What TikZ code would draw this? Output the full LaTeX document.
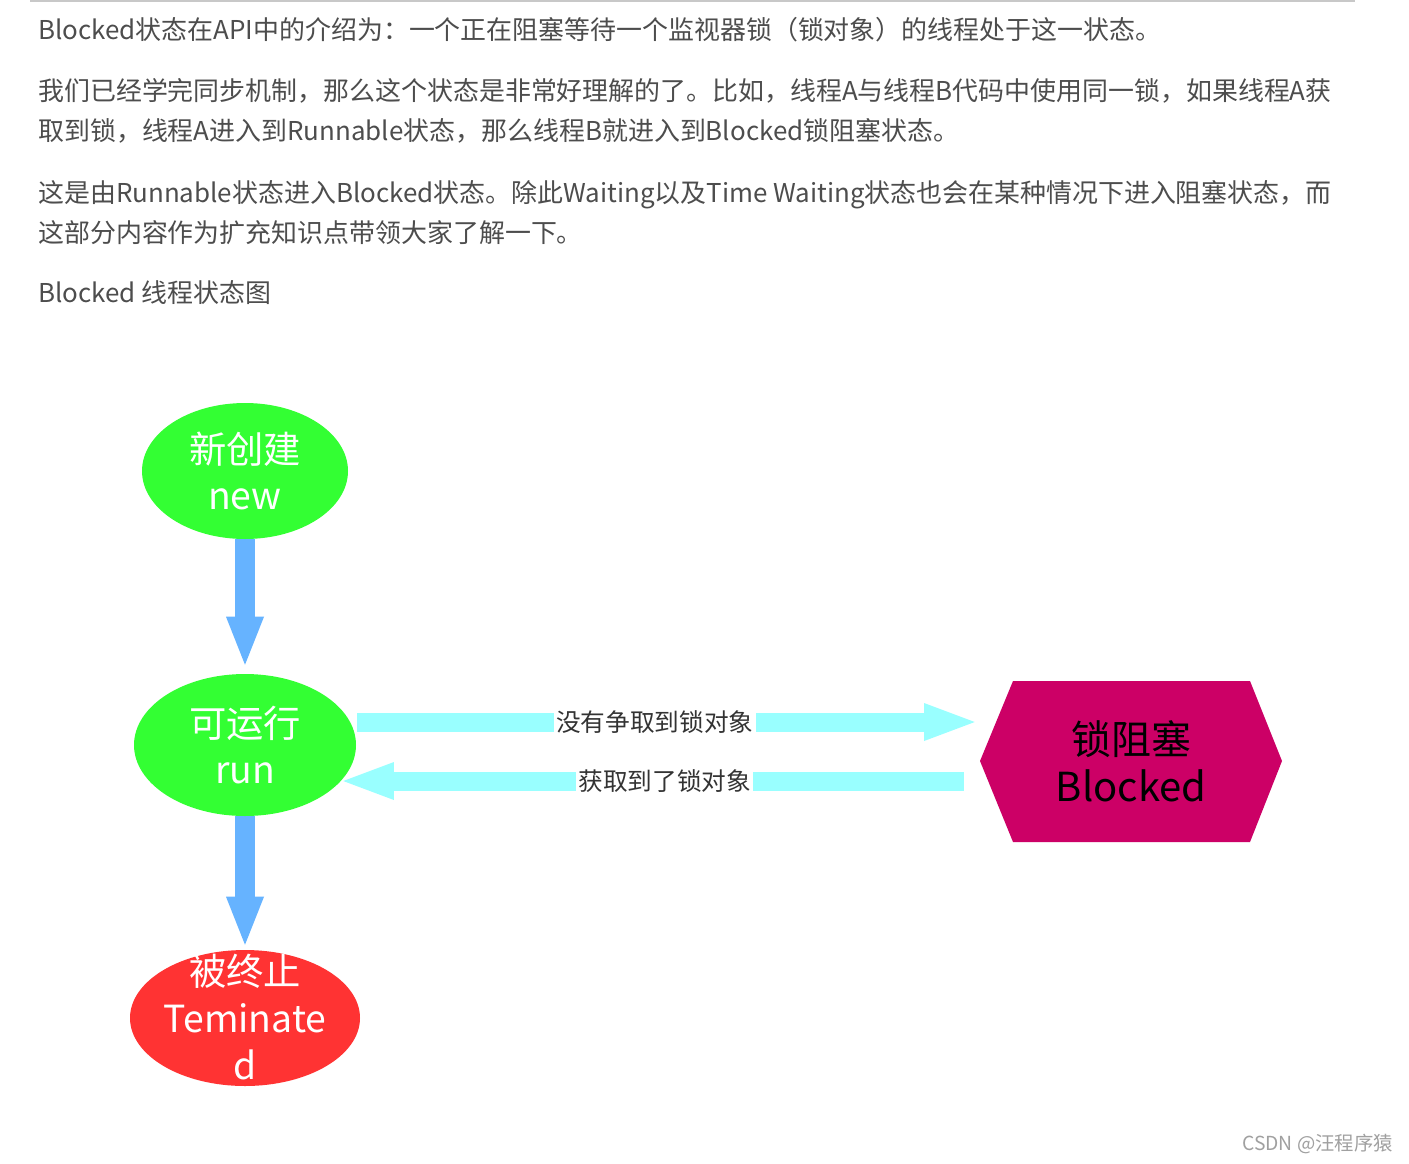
\documentclass[tikz,border=0pt]{standalone}
\usepackage{fontspec}
\setmainfont{Noto Sans CJK SC}
\usetikzlibrary{arrows.meta,shapes.geometric,backgrounds}
\definecolor{bodytxt}{RGB}{77,77,77}
\definecolor{labeltxt}{RGB}{51,51,51}
\definecolor{rulecol}{RGB}{200,200,200}
\definecolor{stgreen}{RGB}{51,255,51}
\definecolor{stred}{RGB}{255,51,51}
\definecolor{blkcol}{RGB}{204,0,102}
\definecolor{arrblue}{RGB}{102,179,255}
\definecolor{arrcyan}{RGB}{153,255,255}
\definecolor{wmark}{RGB}{160,160,160}
\begin{document}
\begin{tikzpicture}[x=0.75pt,y=-0.75pt,
  body/.style={anchor=base west, inner sep=0, text=bodytxt, font=\fontsize{19.45}{24}\selectfont},
  stateell/.style={ellipse, inner sep=0, draw=none},
  stxt/.style={align=center, text=white, inner sep=0, font=\fontsize{28}{35}\selectfont},
  blktxt/.style={align=center, text=black, inner sep=0, font=\fontsize{30}{35}\selectfont},
  barrow/.style={draw=arrblue, line width=15pt, -{Triangle[length=36pt,width=28.5pt,line width=0pt]}},
  carrow/.style={draw=arrcyan, line width=14.25pt, -{Triangle[length=38pt,width=28.5pt,line width=0pt]}},
  lbl/.style={fill=white, text=labeltxt, inner xsep=1.5pt, inner ysep=1pt, font=\fontsize{18.5}{22}\selectfont}]
\useasboundingbox (0,0) rectangle (1409,1163);

% top rule
\draw[rulecol, line width=1.5pt] (30,1) -- (1355,1);

% body text
\node[body] (t1) at (38,40) {Blocked状态在API中的介绍为：一个正在阻塞等待一个监视器锁（锁对象）的线程处于这一状态。};
\node[body] (t2) at (38,100) {我们已经学完同步机制，那么这个状态是非常好理解的了。比如，线程A与线程B代码中使用同一锁，如果线程A获};
\node[body] (t3) at (38,140) {取到锁，线程A进入到Runnable状态，那么线程B就进入到Blocked锁阻塞状态。};
\node[body] (t4) at (38,202) {这是由Runnable状态进入Blocked状态。除此Waiting以及Time Waiting状态也会在某种情况下进入阻塞状态，而};
\node[body] (t5) at (38,242) {这部分内容作为扩充知识点带领大家了解一下。};
\node[body] (t6) at (38,302) {Blocked 线程状态图};

% states
\node[stateell, fill=stgreen, minimum width=154.5pt, minimum height=102pt] (new) at (245,471) {};
\node[stxt] (newt) at (new) {新创建\\new};
\node[stateell, fill=stgreen, minimum width=166.5pt, minimum height=106.5pt] (run) at (245,745) {};
\node[stxt] (runt) at (run) {可运行\\run};
\node[stateell, fill=stred, minimum width=172.5pt, minimum height=102pt] (term) at (245,1018) {};
\node[stxt] (termt) at ([yshift=0.75pt]term) {被终止\\Teminate\\d};

\fill[blkcol] (980,761) -- (1013,681) -- (1250,681) -- (1282,761) -- (1250,842) -- (1013,842) -- cycle;
\node[blktxt, minimum width=226.5pt, minimum height=120.75pt] (blk) at (1131,761) {锁阻塞\\Blocked};

% connectors
\begin{scope}[on background layer]
\fill[white] (0,0) rectangle (1409,1163);
\draw[barrow] (new.south) -- ([shift={(0,-9)}]run.north);
\draw[barrow] (run.south) -- ([shift={(0,-5)}]term.north);
\end{scope}
\draw[carrow] ([shift={(1,-23)}]run.east) -- node[lbl, pos=0.482] (l1) {没有争取到锁对象} ([shift={(-5,-39)}]blk.west);
\draw[carrow] ([shift={(-16,20)}]blk.west) -- node[lbl, pos=0.482] (l2) {获取到了锁对象} ([shift={(-13,36)}]run.east);

% watermark
\node[anchor=base east, inner sep=0, text=wmark, font=\fontsize{14.5}{17}\selectfont] (wm) at (1393,1150) {CSDN @汪程序猿};
\end{tikzpicture}
\end{document}
